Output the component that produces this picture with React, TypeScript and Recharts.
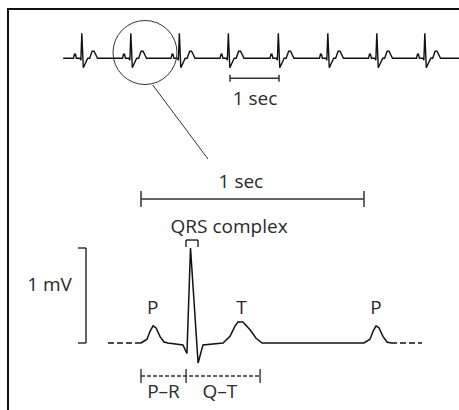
import { LineChart, Line, XAxis, YAxis, ReferenceLine, ReferenceDot } from "recharts";

// top rhythm strip: R-wave times (s) and one beat shape around each R
const stripBeatTimes = [1.67, 2.67, 3.66, 4.66, 5.68, 6.69, 7.69, 8.67];
const stripBeatOffsets = [-0.17, -0.15, -0.13, -0.11, -0.04, -0.02, 0, 0.03, 0.12, 0.16, 0.21, 0.25, 0.32];
const stripBeatValues = [0, 0.16, 0.16, 0, 0, -0.08, 1, -0.38, 0, 0, 0.28, 0.28, 0];
const stripStart = 1.29;
const stripEnd = 9.37;

// enlarged single cycle (s from P onset, mV)
const cycleTimes = [
  0, 0.027, 0.04, 0.054, 0.067, 0.085, 0.103, 0.121, 0.188, 0.206, 0.222, 0.256, 0.278, 0.368, 0.399,
  0.422, 0.435, 0.457, 0.489, 0.516, 0.543, 1.0, 1.027, 1.04, 1.054, 1.067, 1.085, 1.103, 1.121,
];
const cycleValues = [
  0, 0.04, 0.12, 0.18, 0.16, 0.07, 0.01, 0, -0.02, -0.11, 1.0, -0.21, -0.02, 0, 0.07,
  0.18, 0.22, 0.22, 0.14, 0.05, 0, 0, 0.04, 0.12, 0.18, 0.16, 0.07, 0.01, 0,
];
const leadInTimes = [-0.148, 0];
const leadOutTimes = [1.121, 1.26];

const waveLabels = [
  { text: "P", t: 0.052 },
  { text: "T", t: 0.451 },
  { text: "P", t: 1.054 },
];
const intervalMarks = [0, 0.202, 0.534];
const intervalLabels = [
  { text: "P–R", t: 0.101 },
  { text: "Q–T", t: 0.354 },
];

const stripData = [
  { t: stripStart, v: 0 },
  ...stripBeatTimes.flatMap((r) => stripBeatOffsets.map((o, i) => ({ t: r + o, v: stripBeatValues[i] }))),
  { t: stripEnd, v: 0 },
];
const cycleData = cycleTimes.map((t, i) => ({ t, v: cycleValues[i] }));
const leadIn = leadInTimes.map((t) => ({ t, v: 0 }));
const leadOut = leadOutTimes.map((t) => ({ t, v: 0 }));

const W = 459;
const H = 410;
const ink = "#111";
const grey = "#333";
const font = { fontFamily: "'Open Sans', sans-serif", fontSize: 19, fill: "#2a2a2a" };

const textAt = (key: string, value: string, x: number, y: number, axis: string, size = 19) => (
  <ReferenceDot
    key={key}
    xAxisId={axis}
    yAxisId={axis}
    x={x}
    y={y}
    r={0}
    fill="none"
    stroke="none"
    ifOverflow="visible"
    label={{ value, position: "center", ...font, fontSize: size }}
  />
);

const seg = (key: string, x1: number, y1: number, x2: number, y2: number, axis: string, width = 1.4, color = grey, dash?: string) => (
  <ReferenceLine
    key={key}
    xAxisId={axis}
    yAxisId={axis}
    segment={[{ x: x1, y: y1 }, { x: x2, y: y2 }]}
    stroke={color}
    strokeWidth={width}
    strokeDasharray={dash}
    ifOverflow="visible"
  />
);

export default function App() {
  return (
    <div style={{ position: "absolute", left: 0, top: 0, width: W, height: H, background: "#fff", overflow: "hidden" }}>
      <div
        style={{
          position: "absolute",
          left: 7,
          top: 8,
          width: W,
          height: H,
          borderLeft: "2px solid #111",
          borderTop: "2px solid #111",
        }}
      />
      <LineChart width={W} height={H} margin={{ top: 0, right: 0, bottom: 0, left: 0 }} style={{ position: "absolute", left: 0, top: 0 }}>
        <XAxis xAxisId="strip" type="number" dataKey="t" domain={[0, 9.3673]} allowDataOverflow hide />
        <YAxis yAxisId="strip" type="number" domain={[-14.068, 2.332]} allowDataOverflow hide />
        <XAxis xAxisId="big" type="number" dataKey="t" domain={[-0.6323, 1.426]} allowDataOverflow hide />
        <YAxis yAxisId="big" type="number" domain={[-0.7053, 3.6105]} allowDataOverflow hide />

        <Line xAxisId="strip" yAxisId="strip" data={stripData} dataKey="v" type="linear" stroke={ink} strokeWidth={1.4} dot={false} isAnimationActive={false} />

        {/* magnifier circle and pointer */}
        <ReferenceDot xAxisId="strip" yAxisId="strip" x={2.959} y={0.232} r={32} fill="none" stroke={grey} strokeWidth={1} ifOverflow="visible" />
        {seg("pointer", 3.116, -1.068, 4.245, -4.028, "strip", 1)}

        {/* strip scale bar */}
        {seg("sbar", 4.694, -0.8, 5.694, -0.8, "strip", 1.5)}
        {seg("sbarL", 4.694, -0.66, 4.694, -0.94, "strip", 1.5)}
        {seg("sbarR", 5.694, -0.66, 5.694, -0.94, "strip", 1.5)}
        {textAt("slab", "1 sec", 5.204, -1.588, "strip")}

        {/* enlarged cycle */}
        <Line xAxisId="big" yAxisId="big" data={cycleData} dataKey="v" type="linear" stroke={ink} strokeWidth={1.5} dot={false} isAnimationActive={false} />
        <Line xAxisId="big" yAxisId="big" data={leadIn} dataKey="v" type="linear" stroke={ink} strokeWidth={1.4} strokeDasharray="6 3" dot={false} isAnimationActive={false} />
        <Line xAxisId="big" yAxisId="big" data={leadOut} dataKey="v" type="linear" stroke={ink} strokeWidth={1.4} strokeDasharray="6 3" dot={false} isAnimationActive={false} />

        {/* 1 sec bar */}
        {seg("bbar", 0, 1.516, 1, 1.516, "big", 1.5)}
        {seg("bbarL", 0, 1.6, 0, 1.432, "big", 1.5)}
        {seg("bbarR", 1, 1.6, 1, 1.432, "big", 1.5)}
        {textAt("blab", "1 sec", 0.448, 1.705, "big")}

        {/* QRS bracket */}
        {textAt("qrs", "QRS complex", 0.395, 1.232, "big")}
        {seg("qrsT", 0.2018, 1.084, 0.2556, 1.084, "big", 1.3, ink)}
        {seg("qrsL", 0.2018, 1.084, 0.2018, 1.011, "big", 1.3, ink)}
        {seg("qrsR", 0.2556, 1.084, 0.2556, 1.011, "big", 1.3, ink)}

        {/* 1 mV bracket */}
        {seg("mv", -0.2466, 1.0, -0.2466, 0, "big", 1.3, ink)}
        {seg("mvT", -0.2825, 1.0, -0.2466, 1.0, "big", 1.3, ink)}
        {seg("mvB", -0.2825, 0, -0.2466, 0, "big", 1.3, ink)}
        {textAt("mvlab", "1 mV", -0.4103, 0.621, "big")}

        {waveLabels.map((w, i) => textAt(`w${i}`, w.text, w.t, 0.374, "big"))}

        {/* intervals */}
        {seg("int", intervalMarks[0], -0.347, intervalMarks[2], -0.347, "big", 1.4, grey, "4 2")}
        {intervalMarks.map((m, i) => seg(`im${i}`, m, -0.273, m, -0.421, "big", 1.4))}
        {intervalLabels.map((l, i) => textAt(`il${i}`, l.text, l.t, -0.5105, "big"))}
      </LineChart>
    </div>
  );
}
